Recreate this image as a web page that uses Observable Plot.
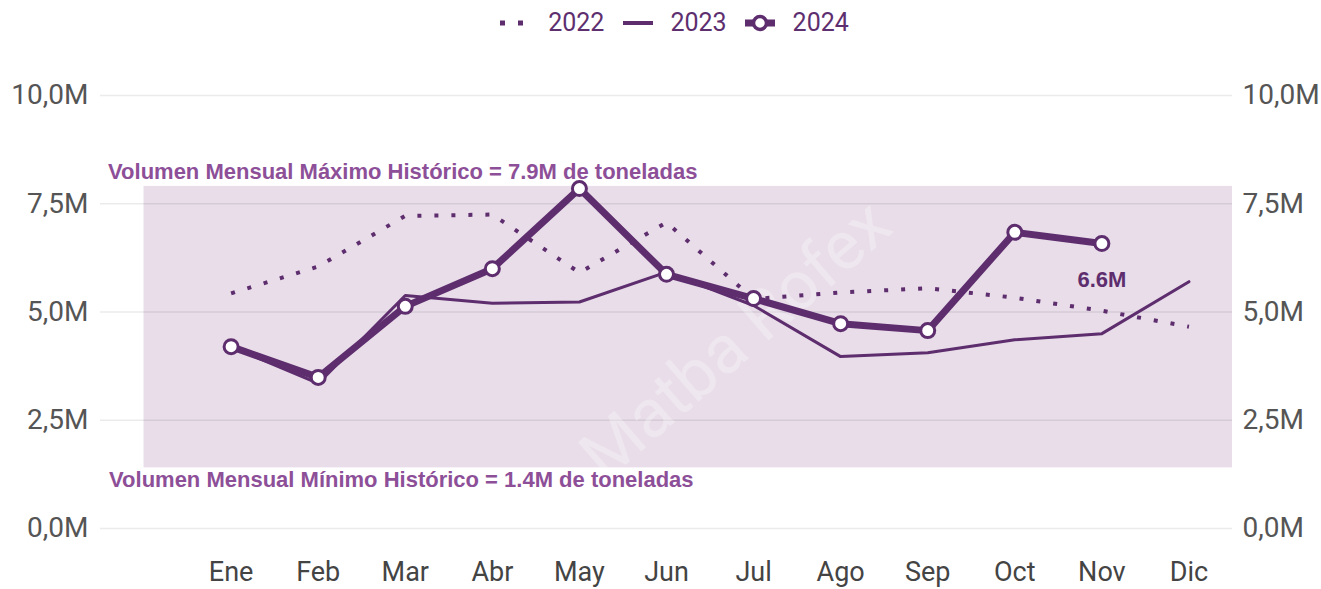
<!DOCTYPE html>
<html><head><meta charset="utf-8">
<script src="https://cdn.jsdelivr.net/npm/d3@7"></script>
<script src="https://cdn.jsdelivr.net/npm/@observablehq/plot@0.6"></script>
<style>
body{margin:0;background:#fff;font-family:Roboto,sans-serif;}
#legend{height:45px;display:flex;align-items:center;justify-content:center;padding-left:28px;color:#5e2f6f;font-size:25px;box-sizing:border-box;width:1321px;}
#legend span.t{display:inline-block;}
#legend svg{display:block;}
</style></head><body>
<div id="legend"></div><div id="chart"></div>
<script>
const months = ["Ene","Feb","Mar","Abr","May","Jun","Jul","Ago","Sep","Oct","Nov","Dic"];
const v2022 = [5.43, 6.05, 7.22, 7.25, 5.91, 7.07, 5.3, 5.45, 5.55, 5.33, 5.03, 4.66];
const v2023 = [4.2, 3.35, 5.38, 5.2, 5.23, 5.92, 5.15, 3.97, 4.06, 4.36, 4.5, 5.7];
const v2024 = [4.2, 3.49, 5.13, 6.0, 7.85, 5.87, 5.31, 4.73, 4.57, 6.84, 6.58];
const series = ["2022","2023","2024"];
const maxHist = 7.9, minHist = 1.4;
const maxLabel = "Volumen Mensual Máximo Histórico = 7.9M de toneladas";
const minLabel = "Volumen Mensual Mínimo Histórico = 1.4M de toneladas";
const lastLabel = "6.6M";
const yTicks = [0, 2.5, 5, 7.5, 10];
const watermark = "Matba Rofex";

const purple = "#5e2d6e";
const annot = "#8d4f98";
const band = "#e8dde9";

const toRows = arr => arr.map((v, i) => ({i, m: months[i], v}));
const d22 = toRows(v2022), d23 = toRows(v2023), d24 = toRows(v2024);
const fmt = d => d.toFixed(1).replace(".", ",") + "M";

// Legend
const lg = document.getElementById("legend");
lg.innerHTML = `
<svg width="24" height="10"><rect x="0" y="2.5" width="5" height="5" fill="${purple}"/><rect x="18" y="2.5" width="5" height="5" fill="${purple}"/></svg>
<span class="t" style="margin-left:24px">${series[0]}</span>
<svg width="30" height="10" style="margin-left:19px"><rect x="0" y="3" width="30" height="4" fill="${purple}"/></svg>
<span class="t" style="margin-left:17px">${series[1]}</span>
<svg width="30" height="22" style="margin-left:18px"><rect x="0" y="7.5" width="30" height="7" fill="${purple}"/><circle cx="15" cy="11" r="6.5" fill="white" stroke="${purple}" stroke-width="3.5"/></svg>
<span class="t" style="margin-left:18px">${series[2]}</span>`;

const annFont = "Liberation Sans, Arial, sans-serif";
const chart = Plot.plot({
  width: 1321, height: 544,
  marginLeft: 100, marginRight: 89, marginTop: 50, marginBottom: 61,
  x: {type: "linear", domain: [-1.5, 11.5]},
  y: {domain: [0, 10]},
  style: {fontFamily: "Roboto, sans-serif", background: "#fff", overflow: "visible"},
  marks: [
    Plot.rect([{x1: -1, x2: 11.5, y1: minHist, y2: maxHist}], {x1: "x1", x2: "x2", y1: "y1", y2: "y2", fill: band}),
    Plot.ruleY(yTicks, {stroke: "#000", strokeOpacity: 0.08, strokeWidth: 1.5}),
    Plot.text([watermark], {x: 5.8, y: 4.35, text: d => d, rotate: -41, fontSize: 68, fill: "white", fillOpacity: 0.3}),
    Plot.text([maxLabel], {x: -1, y: maxHist, text: d => d, textAnchor: "start", dx: -36, dy: -14, fontSize: 22, fontWeight: "bold", fontFamily: annFont, fill: annot}),
    Plot.text([minLabel], {x: -1, y: minHist, text: d => d, textAnchor: "start", dx: -35, dy: 12, fontSize: 22, fontWeight: "bold", fontFamily: annFont, fill: annot}),
    Plot.line(d22, {x: "i", y: "v", stroke: purple, strokeWidth: 4, strokeDasharray: "4,13", strokeLinecap: "butt"}),
    Plot.line(d23, {x: "i", y: "v", stroke: purple, strokeWidth: 3}),
    Plot.line(d24, {x: "i", y: "v", stroke: purple, strokeWidth: 7}),
    Plot.dot(d24, {x: "i", y: "v", r: 7, fill: "white", stroke: purple, strokeWidth: 3}),
    Plot.text(d24.slice(-1), {x: "i", y: "v", text: () => lastLabel, dy: 36, fontSize: 22, fontWeight: "bold", fontFamily: annFont, fill: purple}),
    Plot.axisY(yTicks, {anchor: "left", tickSize: 0, tickPadding: 12, fontSize: 28, tickFormat: fmt, fill: "#555", label: null}),
    Plot.axisY(yTicks, {anchor: "right", tickSize: 0, tickPadding: 10, fontSize: 28, tickFormat: fmt, fill: "#555", label: null}),
    Plot.axisX(d3.range(12), {tickSize: 0, tickPadding: 33, fontSize: 27, tickFormat: i => months[i], fill: "#444", label: null})
  ]
});
document.getElementById("chart").appendChild(chart);
</script>
</body></html>
